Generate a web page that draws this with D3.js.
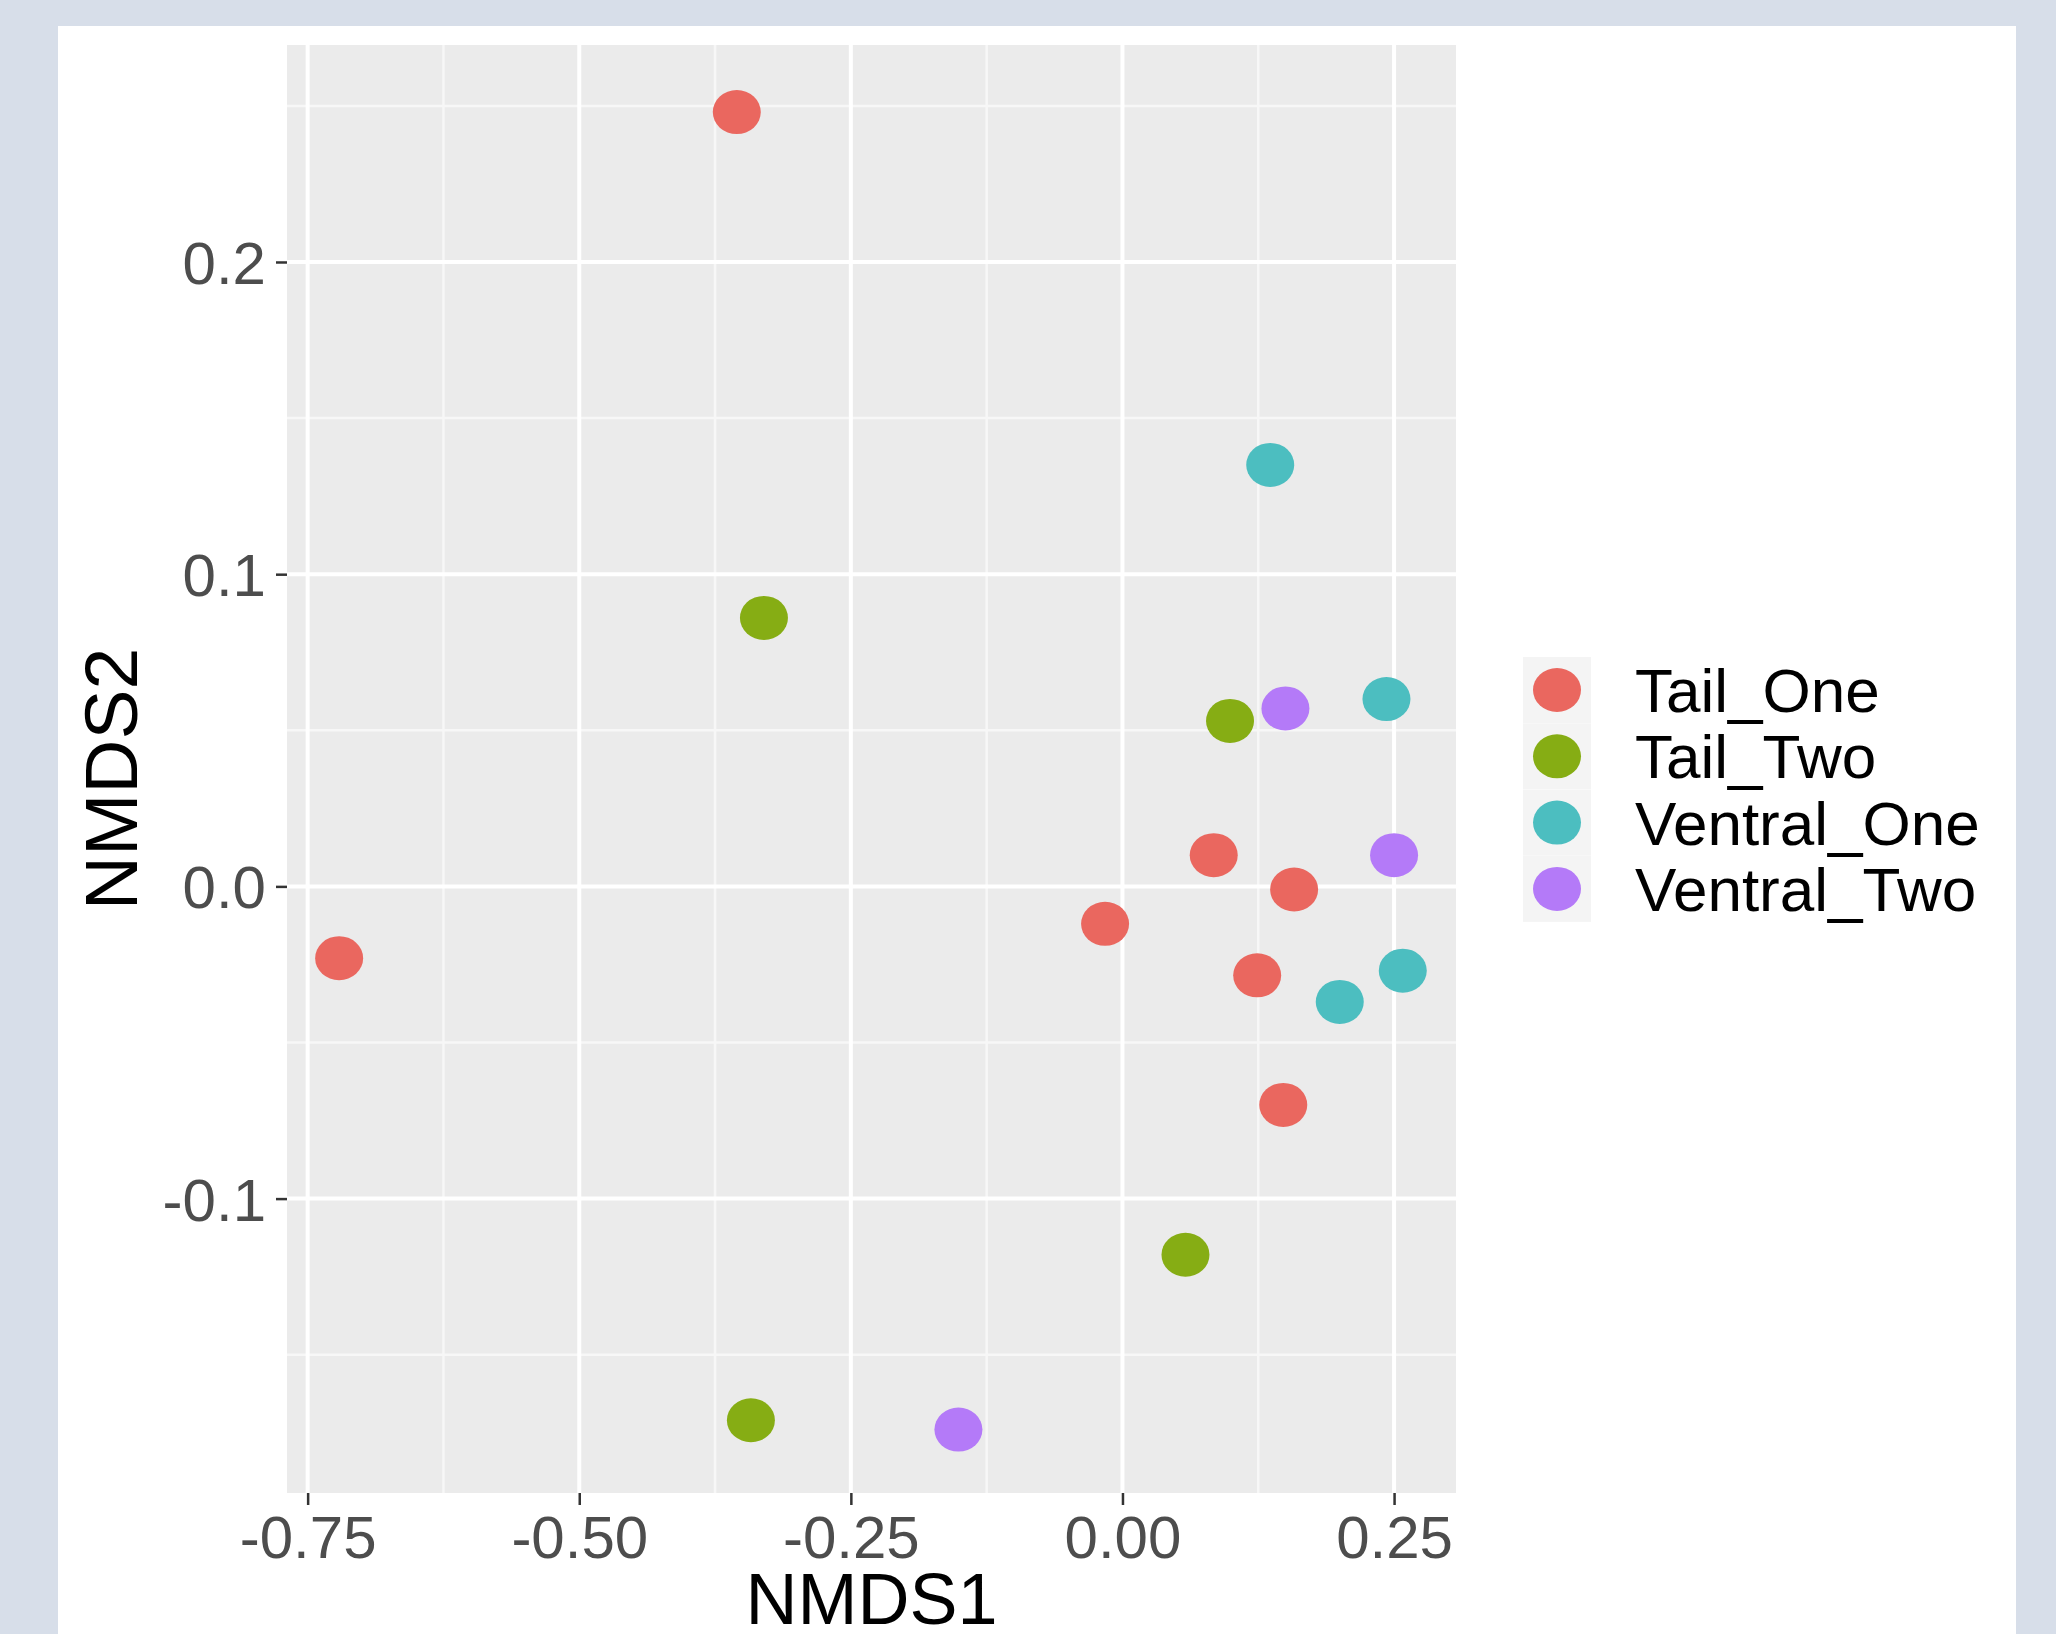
<!DOCTYPE html>
<html>
<head>
<meta charset="utf-8">
<script src="https://cdn.jsdelivr.net/npm/d3@7"></script>
<style>
  body { margin: 0; background: #d7dee9; }
  svg { display: block; }
  text { font-family: "Liberation Sans", Arial, sans-serif; }
</style>
</head>
<body>
<div id="chart"></div>
<script>
// Groups and their colours
const groups = ["Tail_One", "Tail_Two", "Ventral_One", "Ventral_Two"];
const groupColors = ["#ea675f", "#86ad14", "#4cbec0", "#b47af8"];

// NMDS scores per group
const tailOneX = [-0.355, -0.721, -0.016, 0.084, 0.158, 0.124, 0.148];
const tailOneY = [0.248, -0.023, -0.012, 0.010, -0.001, -0.0285, -0.070];
const tailTwoX = [-0.330, 0.099, 0.058, -0.342];
const tailTwoY = [0.086, 0.053, -0.118, -0.171];
const ventralOneX = [0.136, 0.243, 0.258, 0.200];
const ventralOneY = [0.135, 0.060, -0.027, -0.037];
const ventralTwoX = [0.150, 0.250, -0.151];
const ventralTwoY = [0.057, 0.010, -0.174];

// Axis ticks
const xTicks = [-0.75, -0.5, -0.25, 0, 0.25];
const yTicks = [-0.1, 0, 0.1, 0.2];
const xMinor = [-0.625, -0.375, -0.125, 0.125];
const yMinor = [-0.15, -0.05, 0.05, 0.15, 0.25];

// Build the point table from the arrays
const seriesX = [tailOneX, tailTwoX, ventralOneX, ventralTwoX];
const seriesY = [tailOneY, tailTwoY, ventralOneY, ventralTwoY];
const points = [];
groups.forEach((g, i) => {
  seriesX[i].forEach((x, j) => points.push({ group: g, x: x, y: seriesY[i][j] }));
});

const W = 2056, H = 1634;
const panel = { left: 287, top: 45, right: 1456, bottom: 1493 };

const svg = d3.select("#chart").append("svg").attr("width", W).attr("height", H);

// White card
svg.append("rect")
  .attr("x", 58).attr("y", 26)
  .attr("width", 2016 - 58).attr("height", H)
  .attr("fill", "#ffffff");

// Scales
const xScale = d3.scaleLinear().domain([-0.769, 0.307]).range([panel.left, panel.right]);
const yScale = d3.scaleLinear().domain([-0.1943, 0.2695]).range([panel.bottom, panel.top]);
const colorScale = d3.scaleOrdinal().domain(groups).range(groupColors);

// Plain hyphen for negatives, like R does
const fmt = (spec) => (d) => d3.format(spec)(d).replace("\u2212", "-");

// Panel background
svg.append("rect")
  .attr("x", panel.left).attr("y", panel.top)
  .attr("width", panel.right - panel.left).attr("height", panel.bottom - panel.top)
  .attr("fill", "#ebebeb");

// Minor grid
const grid = svg.append("g");
grid.selectAll(".xminor").data(xMinor).enter().append("line")
  .attr("x1", (d) => xScale(d)).attr("x2", (d) => xScale(d))
  .attr("y1", panel.top).attr("y2", panel.bottom)
  .attr("stroke", "#f7f7f7").attr("stroke-width", 2.5);
grid.selectAll(".yminor").data(yMinor).enter().append("line")
  .attr("y1", (d) => yScale(d)).attr("y2", (d) => yScale(d))
  .attr("x1", panel.left).attr("x2", panel.right)
  .attr("stroke", "#f7f7f7").attr("stroke-width", 2.5);

// Major grid
grid.selectAll(".xmajor").data(xTicks).enter().append("line")
  .attr("x1", (d) => xScale(d)).attr("x2", (d) => xScale(d))
  .attr("y1", panel.top).attr("y2", panel.bottom)
  .attr("stroke", "#ffffff").attr("stroke-width", 4);
grid.selectAll(".ymajor").data(yTicks).enter().append("line")
  .attr("y1", (d) => yScale(d)).attr("y2", (d) => yScale(d))
  .attr("x1", panel.left).attr("x2", panel.right)
  .attr("stroke", "#ffffff").attr("stroke-width", 4);

// Axes
const xAxis = svg.append("g")
  .attr("transform", `translate(0,${panel.bottom})`)
  .call(d3.axisBottom(xScale).tickValues(xTicks).tickFormat(fmt(".2f"))
    .tickSize(12).tickPadding(10));
const yAxis = svg.append("g")
  .attr("transform", `translate(${panel.left},0)`)
  .call(d3.axisLeft(yScale).tickValues(yTicks).tickFormat(fmt(".1f"))
    .tickSize(11).tickPadding(10));

[xAxis, yAxis].forEach((ax) => {
  ax.select(".domain").remove();
  ax.selectAll(".tick line").attr("stroke", "#333333").attr("stroke-width", 2.5);
  ax.selectAll(".tick text")
    .attr("fill", "#4d4d4d")
    .style("font-size", "60px");
});
yAxis.selectAll(".tick text").attr("dy", "0.36em");

// Points
svg.append("g").selectAll("ellipse").data(points).enter().append("ellipse")
  .attr("cx", (d) => xScale(d.x))
  .attr("cy", (d) => yScale(d.y))
  .attr("rx", 24).attr("ry", 22)
  .attr("fill", (d) => colorScale(d.group));

// Axis titles
svg.append("text")
  .attr("x", (panel.left + panel.right) / 2).attr("y", 1624)
  .attr("text-anchor", "middle")
  .style("font-size", "72px").attr("fill", "#000")
  .text("NMDS1");
svg.append("text")
  .attr("transform", `translate(137,${(panel.top + panel.bottom) / 2 + 10}) rotate(-90)`)
  .attr("text-anchor", "middle")
  .style("font-size", "75px").attr("fill", "#000")
  .text("NMDS2");

// Legend
const legend = svg.append("g").attr("transform", "translate(1557,690)");
const rows = legend.selectAll("g").data(groups).enter().append("g")
  .attr("transform", (d, i) => `translate(0,${i * 66.3})`);
rows.append("rect")
  .attr("x", -34).attr("y", -33).attr("width", 68).attr("height", 66)
  .attr("fill", "#f4f4f4");
rows.append("ellipse")
  .attr("rx", 24).attr("ry", 22)
  .attr("fill", (d) => colorScale(d));
rows.append("text")
  .attr("x", 78).attr("y", 22)
  .style("font-size", "62px").attr("fill", "#000")
  .text((d) => d);
</script>
</body>
</html>
